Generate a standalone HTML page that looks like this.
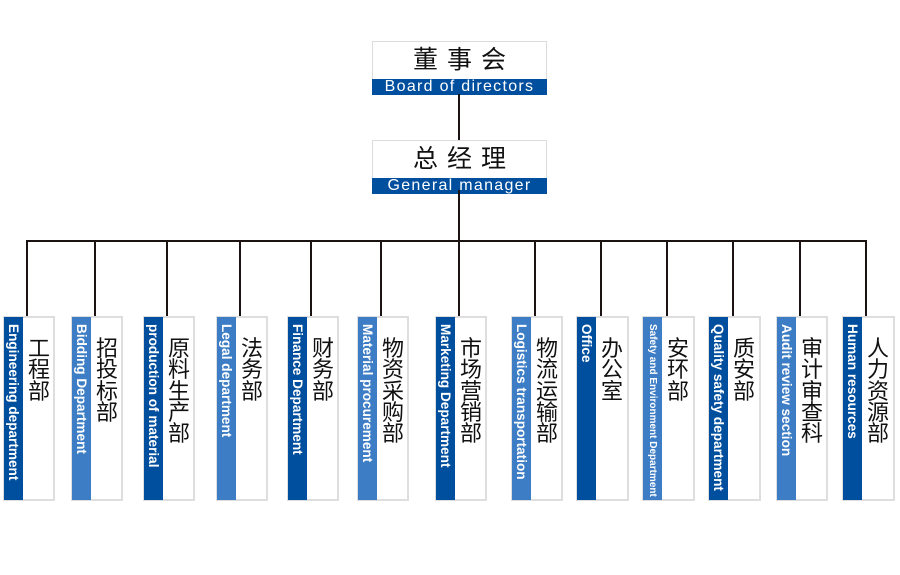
<!DOCTYPE html>
<html>
<head>
<meta charset="utf-8">
<style>
  html,body{margin:0;padding:0;background:#fff;}
  body{width:900px;height:575px;position:relative;overflow:hidden;font-family:"Liberation Sans","Noto Sans CJK SC",sans-serif;}
  .abs{position:absolute;}
  .ln{position:absolute;background:#1a1311;}
  .top{position:absolute;left:372px;width:175px;box-sizing:border-box;border:1px solid #dcdcdc;background:#fff;}
  .top .cn{position:absolute;left:0;right:0;top:0;height:37px;line-height:37px;text-align:center;font-size:25px;letter-spacing:9px;text-indent:9px;color:#111;font-family:"Liberation Sans","Noto Sans CJK SC",sans-serif;}
  .top .en{position:absolute;left:-1px;right:-1px;bottom:-1px;height:16px;line-height:16px;background:#004e9e;color:#fff;text-align:center;font-size:16px;letter-spacing:1.3px;white-space:nowrap;}
  .box{position:absolute;top:316px;width:52px;height:185px;box-sizing:border-box;border:2px solid #dedede;background:#fff;}
  .bar{position:absolute;top:317px;width:19px;height:183px;}
  .dk{background:#004e9e;}
  .lt{background:#3d7dc5;}
  .vt{position:absolute;top:324px;width:19px;writing-mode:vertical-rl;line-height:19px;font-size:13.6px;font-weight:bold;color:#fff;white-space:nowrap;font-family:"Liberation Sans",sans-serif;}
  .cnv{position:absolute;top:338px;width:30px;text-align:center;font-size:22px;line-height:21.3px;color:#111;font-family:"Liberation Sans","Noto Sans CJK SC",sans-serif;}
</style>
</head>
<body>

<!-- top boxes -->
<div class="top" style="top:41px;height:54px;">
  <div class="cn">董事会</div>
  <div class="en">Board of directors</div>
</div>
<div class="top" style="top:140px;height:54px;">
  <div class="cn">总经理</div>
  <div class="en">General manager</div>
</div>

<!-- connectors -->
<div class="ln" style="left:458px;top:94px;width:2px;height:46px;"></div>
<div class="ln" style="left:458px;top:190px;width:2px;height:59px;"></div>
<div class="ln" style="left:26px;top:240px;width:841px;height:2px;"></div>

<!-- dept 1 -->
<div class="ln" style="left:26px;top:240px;width:2px;height:76px;"></div>
<div class="box" style="left:3px;"></div>
<div class="bar dk" style="left:4px;"></div>
<div class="vt" style="left:4px;">Engineering department</div>
<div class="cnv" style="left:24px;">工<br>程<br>部</div>

<!-- dept 2 -->
<div class="ln" style="left:94px;top:240px;width:2px;height:76px;"></div>
<div class="box" style="left:71px;"></div>
<div class="bar lt" style="left:72px;"></div>
<div class="vt" style="left:72px;">Bidding Department</div>
<div class="cnv" style="left:92px;">招<br>投<br>标<br>部</div>

<!-- dept 3 -->
<div class="ln" style="left:166px;top:240px;width:2px;height:76px;"></div>
<div class="box" style="left:143px;"></div>
<div class="bar dk" style="left:144px;"></div>
<div class="vt" style="left:144px;">production of material</div>
<div class="cnv" style="left:164px;">原<br>料<br>生<br>产<br>部</div>

<!-- dept 4 -->
<div class="ln" style="left:239px;top:240px;width:2px;height:76px;"></div>
<div class="box" style="left:216px;"></div>
<div class="bar lt" style="left:217px;"></div>
<div class="vt" style="left:217px;">Legal department</div>
<div class="cnv" style="left:237px;">法<br>务<br>部</div>

<!-- dept 5 -->
<div class="ln" style="left:310px;top:240px;width:2px;height:76px;"></div>
<div class="box" style="left:287px;"></div>
<div class="bar dk" style="left:288px;"></div>
<div class="vt" style="left:288px;">Finance Department</div>
<div class="cnv" style="left:308px;">财<br>务<br>部</div>

<!-- dept 6 -->
<div class="ln" style="left:380px;top:240px;width:2px;height:76px;"></div>
<div class="box" style="left:357px;"></div>
<div class="bar lt" style="left:358px;"></div>
<div class="vt" style="left:358px;">Material procurement</div>
<div class="cnv" style="left:378px;">物<br>资<br>采<br>购<br>部</div>

<!-- dept 7 -->
<div class="ln" style="left:458px;top:240px;width:2px;height:76px;"></div>
<div class="box" style="left:435px;"></div>
<div class="bar dk" style="left:436px;"></div>
<div class="vt" style="left:436px;">Marketing Department</div>
<div class="cnv" style="left:456px;">市<br>场<br>营<br>销<br>部</div>

<!-- dept 8 -->
<div class="ln" style="left:534px;top:240px;width:2px;height:76px;"></div>
<div class="box" style="left:511px;"></div>
<div class="bar lt" style="left:512px;"></div>
<div class="vt" style="left:512px;">Logistics transportation</div>
<div class="cnv" style="left:532px;">物<br>流<br>运<br>输<br>部</div>

<!-- dept 9 -->
<div class="ln" style="left:600px;top:240px;width:2px;height:76px;"></div>
<div class="box" style="left:576px;width:53px;"></div>
<div class="bar dk" style="left:577px;"></div>
<div class="vt" style="left:577px;">Office</div>
<div class="cnv" style="left:597px;">办<br>公<br>室</div>

<!-- dept 10 -->
<div class="ln" style="left:666px;top:240px;width:2px;height:76px;"></div>
<div class="box" style="left:642px;width:53px;"></div>
<div class="bar lt" style="left:643px;"></div>
<div class="vt" style="left:643px;font-size:10px;">Safety and Environment Department</div>
<div class="cnv" style="left:663px;">安<br>环<br>部</div>

<!-- dept 11 -->
<div class="ln" style="left:732px;top:240px;width:2px;height:76px;"></div>
<div class="box" style="left:708px;width:53px;"></div>
<div class="bar dk" style="left:709px;"></div>
<div class="vt" style="left:709px;">Quality safety department</div>
<div class="cnv" style="left:729px;">质<br>安<br>部</div>

<!-- dept 12 -->
<div class="ln" style="left:799px;top:240px;width:2px;height:76px;"></div>
<div class="box" style="left:776px;"></div>
<div class="bar lt" style="left:777px;"></div>
<div class="vt" style="left:777px;">Audit review section</div>
<div class="cnv" style="left:797px;">审<br>计<br>审<br>查<br>科</div>

<!-- dept 13 -->
<div class="ln" style="left:865px;top:240px;width:2px;height:76px;"></div>
<div class="box" style="left:842px;width:53px;"></div>
<div class="bar dk" style="left:843px;"></div>
<div class="vt" style="left:843px;">Human resources</div>
<div class="cnv" style="left:863px;">人<br>力<br>资<br>源<br>部</div>

</body>
</html>
